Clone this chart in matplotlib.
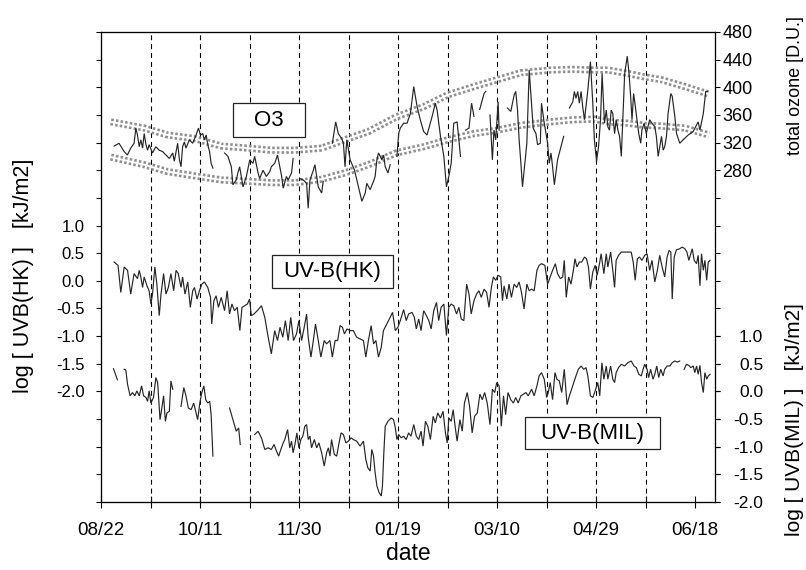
import numpy as np
import matplotlib
matplotlib.use("Agg")
import matplotlib.pyplot as plt
from matplotlib.patches import Rectangle

plt.rcParams['font.family'] = ['Liberation Sans', 'DejaVu Sans']

nan = np.nan

# ---------------- x axis (days since 08/22) ----------------
tick_days = [0, 25, 50, 75, 100, 125, 150, 175, 200, 225, 250, 275, 300]
tick_labels = ['08/22', '', '10/11', '', '11/30', '', '01/19', '', '03/10', '', '04/29', '', '06/18']
dashed_days = [25, 50, 75, 100, 125, 150, 175, 200, 225, 250, 275]

# ---------------- total ozone [D.U.] ----------------
ozone_day = [6.6, 9.1, 11.7, 13.3, 15.0, 16.7, 17.6, 18.4, 19.3, 20.1, 21.0, 21.8, 22.7, 23.5, 24.3, 26.0,
             27.7, 29.4, 31.1, 32.8, 34.5, 36.2, 37.0, 37.9, 38.7, 39.6, 40.4, 41.2, 42.1, 42.9, 44.6, 46.3,
             48.0, 49.2, 50.2, 51.4, 52.2, 53.1, 53.9, 54.8, 55.6, 56.5, nan,
             62.4, 64.1, 65.8, 66.6, 68.3, 69.1, 70.0, 70.8, 71.7, 73.4, 75.1, 76.7, 77.6, 79.3, 80.1, 81.8,
             83.5, 85.2, 86.0, 87.7, 89.1, 90.3, 91.1, 92.0, 93.6, 94.5, 96.2, 97.0, nan,
             100.4, 102.1, 103.8, 104.6, 105.5, 107.2, 108.0, 108.9, 109.7, 111.4, 112.2, nan,
             116.8, 118.5, 119.8, 121.5, 122.4, 123.2, 124.1, 125.8, 128.0, 130.0, 131.7, 133.4, 134.2,
             135.9, 137.6, 138.4, 139.3, 140.1, 141.0, 141.8, 142.7, 143.5, 144.9, 146.0, nan,
             149.4, 150.3, 151.1, 152.8, 154.5, 156.2, 157.9, 159.6, 161.2, 162.9, 164.6, 167.2, 168.8,
             169.7, 171.4, 173.1, 174.4, 175.6, 176.8, 178.1, 179.8, 180.7, 181.5, nan,
             184.1, 185.8, 187.1, 188.3, nan,
             191.2, 193.4, 194.2, nan,
             196.4, 197.6, 198.4, 199.3, 200.5, 201.0, nan,
             205.2, 206.9, 208.6, 209.4, 210.3, 211.1, 212.0, 212.8, 214.0, 215.0, 216.2, 218.2, 219.6,
             220.4, 221.8, 222.4, 223.8, 225.5, 226.3, 227.2, 228.0, 228.9, 230.5, 232.2, 233.6, nan,
             236.5, 238.2, 239.0, 239.8, 240.7, 241.5, 242.4, 243.2, 244.1, 245.8, 247.1, 248.3, 249.1,
             250.2, 251.2, 252.2, 253.0, 254.2, 255.1, 255.9, 256.7, 257.6, 258.4, 259.3, 260.1, 261.0,
             261.8, 262.7, 264.4, 265.7, 266.6, 267.4, 268.1, 268.9, 269.8, 270.6, 271.5, 272.5, 273.1,
             274.2, 275.3, 277.0, 278.2, 279.6, 280.4, 281.3, 282.1, 283.0, 283.8, 284.6, 285.5, 286.3,
             287.7, 288.4, 289.7, 290.6, 292.2, 293.9, 296.5, 299.0, 301.5, 302.4, 304.1, 305.3, 306.3]
ozone_val = [315, 319, 307, 302, 312, 319, 341, 331, 314, 324, 312, 333, 317, 309, 317, 305,
             314, 309, 307, 302, 297, 305, 293, 307, 319, 295, 285, 314, 321, 312, 324, 319,
             331, 341, 331, 333, 324, 331, 317, 307, 290, 283, nan,
             305, 300, 285, 259, 266, 276, 285, 271, 256, 271, 295, 290, 300, 276, 268, 280,
             271, 278, 285, 290, 302, 285, 273, 254, 271, 266, 276, 297, nan,
             268, 266, 261, 225, 266, 280, 288, 271, 256, 247, 264, nan,
             319, 350, 333, 326, 319, 285, 324, 295, 280, 256, 235, 247, 261,
             252, 264, 271, 295, 305, 300, 295, 302, 285, 276, 288, nan,
             300, 333, 341, 348, 348, 362, 401, 372, 353, 336, 331, 358, 377,
             367, 329, 300, 256, 271, 290, 348, 350, 324, 300, nan,
             338, 341, 377, 358, nan,
             368, 391, 394, nan,
             360, 295, 338, 324, 379, 338, nan,
             370, 365, 389, 394, 367, 324, 290, 256, 290, 319, 425, 341, 333,
             317, 319, 377, 348, 319, 290, 305, 285, 259, 295, 314, 329, nan,
             370, 379, 394, 384, 394, 377, 394, 372, 353, 396, 437, 377, 324,
             293, 314, 353, 420, 348, 367, 343, 338, 367, 362, 333, 353, 338,
             329, 300, 420, 445, 420, 387, 353, 391, 372, 353, 333, 319, 338,
             348, 333, 353, 348, 343, 329, 300, 314, 329, 309, 314, 329, 362,
             391, 387, 358, 333, 319, 324, 331, 336, 350, 338, 362, 394, 394]

# climatological band (upper / lower curves)
band_day = [5, 21.8, 33.6, 47, 60.7, 74, 86, 98, 111.4, 123, 135, 149, 162.9, 175, 188.3, 200,
            212, 227, 238, 249, 256, 266, 274.5, 283, 294.8, 307]
band_hi = [350, 341, 331, 326, 315, 312, 309, 309, 312, 324, 336, 357, 372, 389, 401, 411,
           421, 425, 426, 425, 425, 420, 415, 411, 401, 390]
band_lo = [299, 288, 278, 272, 266, 264, 262, 262, 267, 276, 288, 305, 314, 324, 333, 338,
           345, 350, 353, 354, 350, 348, 345, 344, 341, 331]

# ---------------- log UVB (HK) ----------------
hk_day = [6.6, 8.6, 10.0, 11.7, 13.4, 15.0, 16.7, 18.4, 19.3, 20.1, 21.0, 21.8, 23.2, 24.3, 25.2, 26.0,
          27.2, 28.2, 29.4, 30.3, 31.6, 32.8, 34.0, 35.3, 36.7, 37.9, 39.0, 40.4, 41.2, 42.4, 43.8, 45.1,
          46.3, 47.2, 48.5, 49.7, 50.9, 52.2, 53.9, 55.3, 55.9, 57.0, 58.1, 59.3, 60.7, 62.4, 63.7, 64.9,
          66.1, 67.4, 68.8, 70.1, 71.2, 72.5, 73.9, 75.0, 75.9, 77.2, 78.9, 81.0, 82.7, 84.4, 86.0, 87.7,
          89.1, 90.4, 91.8, 93.1, 94.5, 95.8, 97.2, 98.7, 99.9, 101.3, 102.6, 103.8, 104.6, 106.0, 107.2,
          108.3, 109.7, 111.0, 112.7, 113.9, 115.6, 116.8, 118.2, 119.5, 120.7, 121.9, 122.9, 124.2,
          125.8, 127.4, 129.1, 130.8, 132.5, 133.7, 135.0, 136.4, 137.6, 138.8, 140.1, 141.5, 142.6,
          144.3, 146.0, 147.2, 148.6, 149.9, 151.1, 152.8,
          154.1, 155.3, 157.0, 158.2, 159.2, 160.4, 161.6, 162.9, 164.3, 165.5, 166.7, 168.0, 169.4,
          170.5, 171.7, 173.1, 174.4, 175.6, 176.8, 178.1, 179.5, 180.7, 181.9, 183.2, 184.6, 185.8,
          186.9, 188.3, 189.6, 190.8, 192.0, 193.4, 194.7, 195.9, 197.1, 198.1, 199.3, 200.5, 201.8,
          202.7, 203.5, 204.9, 206.0, 207.2, 208.6, 209.9, 211.1, 212.3, 213.6, 215.0, 216.2, 217.4,
          218.7, 220.1, 221.2, 222.4, 224.1, 225.5, 226.8, 228.0, 229.4, 230.5, 231.9, 233.1, 233.9,
          234.9, 236.1, 237.3, 238.5, 239.3, 240.3, 241.5, 242.7, 244.1, 245.1, 246.1, 247.1, 248.3,
          249.5, 250.5, 251.7, 252.5, 253.9, 255.1, 255.9, 257.3, 258.4, 259.3, 260.1, 261.3, 262.7,
          264.4, 266.0, 267.7, 268.7, 269.7, 270.8, 271.9, 273.1, 274.5, 275.7, 277.0, 278.2, 279.6,
          280.9, 282.1, 283.3, 284.6, 285.8, 286.8, 287.7, 288.4, 289.4, 290.5, 292.2, 293.4, 294.8,
          295.8, 296.8, 297.8, 298.5, 299.5, 300.7, 301.5, 302.4, 303.2, 304.1, 304.9, 305.8, 306.6, 307.5]
hk_val = [0.34, 0.28, -0.21, 0.25, 0.19, -0.24, 0.13, 0.04, 0.19, 0.07, -0.12, 0.07, -0.09, -0.18, -0.42, -0.24,
          0.25, -0.06, -0.63, -0.24, 0.13, -0.24, -0.12, 0.13, -0.18, 0.19, 0.13, -0.12, 0.07, -0.24, -0.02, -0.48,
          -0.18, -0.12, -0.33, -0.18, -0.06, -0.02, -0.12, -0.30, -0.78, -0.36, -0.27, -0.48, -0.30, -0.54, -0.18, -0.60,
          -0.42, -0.54, -0.48, -0.90, -0.48, -0.45, -0.42, -0.33, -0.63, -0.60, -0.54, -0.45, -0.66, -1.02, -1.32, -0.90,
          -1.08, -0.84, -1.02, -0.72, -1.08, -0.66, -1.08, -0.96, -0.72, -1.08, -0.84, -0.60, -1.02, -1.38, -1.08,
          -0.78, -1.08, -1.38, -1.08, -1.14, -1.08, -1.38, -1.08, -1.08, -0.81, -0.84, -0.96, -0.87,
          -0.90, -0.90, -1.02, -1.05, -1.08, -1.38, -1.08, -0.81, -1.14, -1.08, -1.38, -1.20, -0.90,
          -0.78, -0.66, -0.57, -0.90, -0.84, -0.72, -0.52,
          -0.72, -0.60, -0.57, -0.66, -0.87, -0.69, -0.90, -0.54, -0.63, -0.72, -0.87, -0.54, -0.39,
          -0.72, -0.48, -0.42, -0.99, -0.48, -0.42, -0.45, -0.60, -0.48, -0.69, -0.72, -0.06, -0.24,
          -0.60, -0.36, -0.24, -0.18, -0.30, -0.15, -0.21, -0.48, -0.12, 0.07, 0.01, 0.10, 0.07,
          -0.36, -0.09, -0.33, -0.06, -0.30, -0.06, -0.12, -0.02, -0.21, -0.51, -0.06, -0.18, -0.15,
          -0.18, 0.19, 0.28, 0.31, 0.28, -0.06, 0.07, 0.19, 0.31, 0.13, 0.04, 0.07, 0.37,
          -0.30, 0.07, -0.06, 0.19, 0.40, 0.25, 0.34, 0.34, 0.43, 0.40, 0.25, -0.15, 0.16,
          0.28, 0.10, 0.31, 0.49, 0.13, 0.49, 0.25, 0.52, 0.19, -0.12, 0.37, 0.46, 0.52,
          0.52, 0.52, 0.52, 0.34, 0.01, 0.40, 0.43, 0.37, 0.46, 0.49, 0.19, 0.37, -0.02,
          0.19, 0.46, 0.25, 0.07, 0.43, 0.55, 0.52, -0.33, 0.43, 0.56, 0.58, 0.61, 0.58,
          0.52, 0.37, 0.49, 0.58, 0.37, 0.31, 0.46, -0.09, 0.49, 0.19, 0.37, 0.01, 0.34, 0.37]

# ---------------- log UVB (MIL) ----------------
mil_day = [6.3, 8.3, nan,
           11.7, 12.5, 13.4, 14.7, 15.9, 17.1, 18.1, 19.3, 20.5, 21.5, 22.7, 23.5, 24.3, 25.2, 26.5, 27.7,
           28.6, 29.8, 30.6, 31.6, 32.5, 33.3, 34.5, 35.3, 36.2, nan,
           40.4, 41.8, 42.9, 44.1, 45.5, 46.8, 48.0, 48.8, 49.9, 50.9, 51.9, 52.9, 53.9, 54.9, 55.6, 56.5, nan,
           64.9, 66.6, 68.3, 69.5, 70.3, nan,
           77.6, 79.3, 81.0, 82.7, 84.4, 86.0, 87.4, 88.6, 89.7, 90.8, 92.0, 92.8, 94.2, 95.3, 96.2, 97.0,
           97.9, 98.9, 99.9, 100.9, 101.9, 102.9, 103.8, 104.6, 105.5, 106.3, 107.7, 108.9, 110.0, 111.4,
           112.7, 113.9, 114.8, 115.6, 116.4, 117.8, 119.0, 120.2, 121.2, 122.4, 123.6, 124.9, 126.3,
           127.4, 129.1, 130.8, 132.5, 133.7, 134.7, 135.9, 136.7, 137.6, 138.4, 139.3, 140.4, 141.5,
           142.1, 142.8, 143.5, 144.9, 146.5, 147.7, 148.6, 149.4, 150.3, 151.6, 152.8,
           154.1, 155.3, 156.5, 157.9, 159.2, 160.4, 161.6, 162.6, 163.8, 165.0, 166.3, 167.7, 168.8,
           170.0, 171.4, 172.7, 173.9, 174.8, 175.6, 176.8, 177.8, 179.0, 179.8, 181.2, 182.4, 183.5,
           184.9, 186.1, 187.4, 188.6, 190.0, 191.3, 192.5, 193.7, 195.0, 196.4, 197.6, 198.8, 199.8,
           201.0, 202.1, 203.2, 204.3, 205.5, 206.9, 208.2, 209.4, 210.6, 212.0, 213.3, 214.5, 215.7,
           217.4, 218.7, 220.1, 221.2, 222.4, 223.8, 225.0, 225.8, 226.8, 228.0, 229.2, 230.2, 231.4,
           232.6, 233.9, 235.3, 236.5, 237.6, 238.7, 239.8, 241.0, 242.4, 243.7, 244.9, 245.8, 247.1,
           248.3, 249.5, 250.8, 251.8, 252.9, 253.9, 255.1, 255.9, 257.3, 258.4, 259.3, 260.1, 261.3,
           262.7, 264.4, 266.0, 267.7, 269.1, 270.3, 271.5, 272.8, 273.7, 274.5, 275.7, 276.5, 277.5,
           278.7, 279.6, 280.6, 281.6, 282.6, 283.8, 284.6, 285.8, 287.2, 288.4, 289.7, 291.0, 292.2, nan,
           294.4, 295.6, 296.8, 297.8, 299.0, 299.8, 300.7, 301.5, 302.4, 303.2, 304.1, 304.9, 305.8,
           306.6, 307.5]
mil_val = [0.41, 0.21, nan,
           0.40, 0.39, 0.13, -0.08, -0.02, -0.08, 0.01, -0.08, 0.10, -0.08, -0.11, -0.18, 0.01, -0.21, -0.11, 0.25,
           0.16, -0.51, -0.33, -0.08, -0.54, -0.39, -0.36, 0.19, 0.04, nan,
           -0.27, 0.07, -0.08, -0.30, -0.33, -0.21, -0.39, -0.51, -0.21, -0.02, 0.10, -0.15, -0.21, -0.18, -0.42, -1.17, nan,
           -0.30, -0.51, -0.72, -0.66, -0.96, nan,
           -0.78, -0.72, -0.84, -1.05, -1.02, -1.05, -0.96, -1.08, -1.17, -1.05, -0.93, -0.87, -0.69, -1.02, -0.90, -1.11,
           -0.96, -0.75, -1.02, -0.87, -0.81, -0.63, -0.60, -0.87, -0.81, -1.02, -0.87, -1.02, -0.93, -1.11,
           -1.35, -1.11, -1.02, -1.17, -0.87, -1.14, -1.17, -0.93, -0.75, -0.78, -0.93, -0.90, -0.84,
           -0.87, -0.90, -0.99, -0.90, -1.23, -1.38, -1.44, -1.05, -1.17, -1.47, -1.71, -1.83, -1.89,
           -1.71, -1.11, -0.63, -0.54, -0.48, -0.51, -0.66, -0.87, -0.78, -0.84, -0.81,
           -0.87, -0.75, -0.81, -0.60, -0.81, -0.87, -0.72, -0.99, -0.54, -0.63, -0.87, -0.45, -0.57,
           -0.39, -0.48, -0.36, -0.75, -0.93, -0.48, -0.54, -0.33, -0.69, -0.90, -0.51, -0.72, -0.21,
           -0.02, -0.27, -0.75, -0.45, -0.39, -0.05, -0.15, -0.02, -0.21, -0.60, 0.04, -0.02, 0.16,
           0.10, -0.63, -0.08, -0.42, -0.02, -0.15, -0.21, -0.11, -0.21, -0.08, -0.05, -0.02, -0.08,
           0.04, -0.08, 0.10, 0.28, 0.34, 0.22, -0.11, -0.02, 0.16, -0.15, 0.34, 0.22, 0.19,
           -0.02, 0.40, -0.24, -0.08, 0.04, 0.16, 0.28, 0.40, 0.46, 0.40, 0.43, 0.28, -0.08,
           -0.11, 0.01, 0.16, -0.08, 0.52, 0.22, 0.46, 0.22, 0.46, 0.22, 0.16, 0.34, 0.43,
           0.49, 0.46, 0.52, 0.55, 0.46, 0.43, 0.31, 0.28, 0.40, 0.49, 0.40, 0.25, 0.40,
           0.22, 0.31, 0.46, 0.25, 0.40, 0.28, 0.40, 0.46, 0.46, 0.52, 0.55, 0.53, 0.55, nan,
           0.40, 0.49, 0.47, 0.43, 0.46, 0.34, 0.46, 0.31, 0.47, 0.16, -0.02, 0.34, 0.22,
           0.28, 0.31]

# ---------------- figure ----------------
W, H = 806, 570
fig = plt.figure(figsize=(W / 100, H / 100), dpi=100)
L, R, T, B = 101, 715, 32, 502
ax = fig.add_axes([L / W, 1 - B / H, (R - L) / W, (B - T) / H])

line_kw = dict(color='#262626', lw=0.85, solid_joinstyle='miter')

# left axis: log UVB(HK)
ax.set_xlim(0, 310)
ax.set_ylim(-4, 4.5)
hk_ticks = np.arange(-4, 4.51, 0.5)
ax.set_yticks(hk_ticks)
ax.set_yticklabels([f'{v:.1f}' if -2.0 <= v <= 1.0 else '' for v in hk_ticks])
ax.set_xticks(tick_days)
ax.set_xticklabels(tick_labels)
ax.tick_params(axis='y', direction='out', length=3.8, width=0.8, pad=8, labelsize=12)
ax.tick_params(axis='x', direction='inout', length=8.6, width=0.8, pad=10, labelsize=13.5)
for d in dashed_days:
    ax.axvline(d, color='black', lw=0.8, dashes=(4.5, 3.5), zorder=1)
ax.plot(hk_day, hk_val, **line_kw, zorder=3)
for s in ax.spines.values():
    s.set_linewidth(0.8)

# right axis (top): total ozone
ax_o = ax.twinx()
ax_o.set_ylim(-200, 480)
oz_ticks = np.arange(-200, 481, 40)
ax_o.set_yticks(oz_ticks)
ax_o.set_yticklabels([str(v) if v >= 280 else '' for v in oz_ticks])
ax_o.tick_params(axis='y', direction='out', length=3.8, width=0.8, pad=1.5, labelsize=13)
for yb in (band_hi, band_lo):
    ax_o.plot(band_day, yb, color='#8f8f8f', lw=5.2, linestyle=(0, (0.35, 0.3)), zorder=2,
              dash_capstyle='butt')
    ax_o.plot(band_day, yb, color='white', lw=1.4, zorder=2)
ax_o.plot(ozone_day, ozone_val, **line_kw, zorder=3)

# right axis (bottom): log UVB(MIL)
ax_m = ax.twinx()
ax_m.set_ylim(-2, 6.5)
mil_ticks = [-2.0, -1.5, -1.0, -0.5, 0.0, 0.5, 1.0]
ax_m.set_yticks(mil_ticks)
ax_m.set_yticklabels([f'{v:.1f}' for v in mil_ticks], ha='right')
ax_m.tick_params(axis='y', direction='out', length=3.8, width=0.8, pad=31, labelsize=12.5)
ax_m.plot(mil_day, mil_val, **line_kw, zorder=3)
for a in (ax_o, ax_m):
    for s in a.spines.values():
        s.set_linewidth(0.8)


def px(x, y):
    return x / W, 1 - y / H


# labelled boxes
for (x0, y0, x1, y1, txt) in [(233, 103, 305, 137, 'O3'),
                              (272, 255, 393, 288, 'UV-B(HK)'),
                              (525, 417, 660, 449, 'UV-B(MIL)')]:
    fx0, fy1 = px(x0, y1)
    rect = Rectangle((fx0, fy1), (x1 - x0) / W, (y1 - y0) / H, transform=fig.transFigure,
                     facecolor='white', edgecolor='#222222', lw=0.9, zorder=10)
    fig.add_artist(rect)
    cx, cy = px((x0 + x1) / 2, (y0 + y1) / 2)
    fig.text(cx, cy, txt, ha='center', va='center', fontsize=16, zorder=11)

# axis titles
fig.text(*px(408, 554), 'date', ha='center', va='center', fontsize=16.5)
fig.text(*px(24, 276), 'log [ UVB(HK) ]   [kJ/m2]', rotation=90, ha='center', va='center', fontsize=15.5)
fig.text(*px(795, 86), 'total ozone [D.U.]', rotation=90, ha='center', va='center', fontsize=13)
fig.text(*px(795, 420), 'log [ UVB(MIL) ]   [kJ/m2]', rotation=90, ha='center', va='center', fontsize=15)

fig.savefig('out.png', dpi=100)
